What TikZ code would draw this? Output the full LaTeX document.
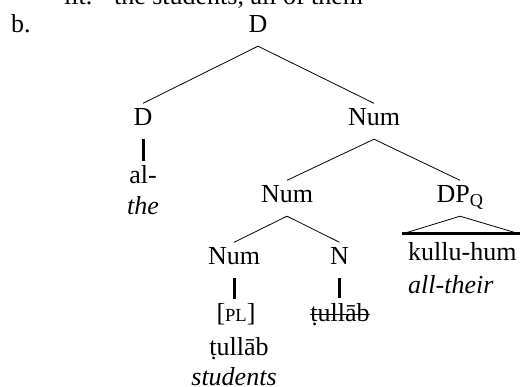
\documentclass[tikz,border=0pt]{standalone}
\usepackage{fontspec}
\setmainfont{Liberation Serif}
\usepackage{tikz}
\usetikzlibrary{positioning}

\begin{document}
\begin{tikzpicture}[x=1pt,y=-1pt,font=\fontsize{26}{30}\selectfont]
\tikzstyle{cat}=[inner xsep=1pt,inner ysep=5.5pt,text height=17pt,text depth=7.5pt,anchor=base]
\tikzstyle{word}=[inner sep=0pt,anchor=base]
\tikzstyle{branch}=[line width=0.8pt]
\tikzstyle{unary}=[line width=3pt]
\useasboundingbox (0,0) rectangle (522,387);
% label and gloss line
\node[word,anchor=base west] (gloss) at (64,5) {lit.\ \ ‘the students, all of them’};
\node[word,anchor=base west] (ex) at (11,33) {b.};
% categories
\node[cat] (D) at (258,33) {D};
\node[cat] (Dl) at (143,126) {D};
\node[cat] (Num) at (374,126) {Num};
\node[cat] (Numb) at (287,203) {Num};
\node[cat] (DPQ) at (460,203) {DP\textsubscript{Q}};
\node[cat] (Numc) at (234,265) {Num};
\node[cat] (N) at (339.5,265) {N};
% words
\node[cat] (al) at (143,184) {al-};
\node[word] (the) at (143,215) {\itshape the};
\node[cat] (pl) at (236,322) {[{\fontsize{18.5}{20}\selectfont PL}]};
\node[word] (tul) at (239,355) {\d{t}ull\={a}b};
\node[word] (stud) at (234,385) {\itshape students};
\node[cat] (tulx) at (340,321) {\d{t}ull\={a}b};
\node[word,anchor=base west] (kh) at (408,261) {kullu-hum};
\node[word,anchor=base west] (allt) at (408,294) {\itshape all-their};
\coordinate (tl) at (402,234);
\coordinate (tr) at (520,234);
% branches
\draw[branch] (D.south) -- (Dl.north);
\draw[branch] (D.south) -- (Num.north);
\draw[branch] (Num.south) -- (Numb.north);
\draw[branch] (Num.south) -- (DPQ.north);
\draw[branch] (Numb.south) -- (Numc.north);
\draw[branch] (Numb.south) -- (N.north);
\draw[unary] (Dl.south) -- (Dl.south |- al.north);
\draw[unary] (Numc.south) -- (Numc.south |- pl.north);
\draw[unary] (N.south) -- (N.south |- tulx.north);
\draw[branch] (tl) -- (DPQ.south) -- (tr);
\draw[unary] (tl) -- (tr);
% strike-through
\draw[branch] ([xshift=1pt,yshift=7pt]tulx.base west) -- ([xshift=-1pt,yshift=7pt]tulx.base east);
\end{tikzpicture}
\end{document}
